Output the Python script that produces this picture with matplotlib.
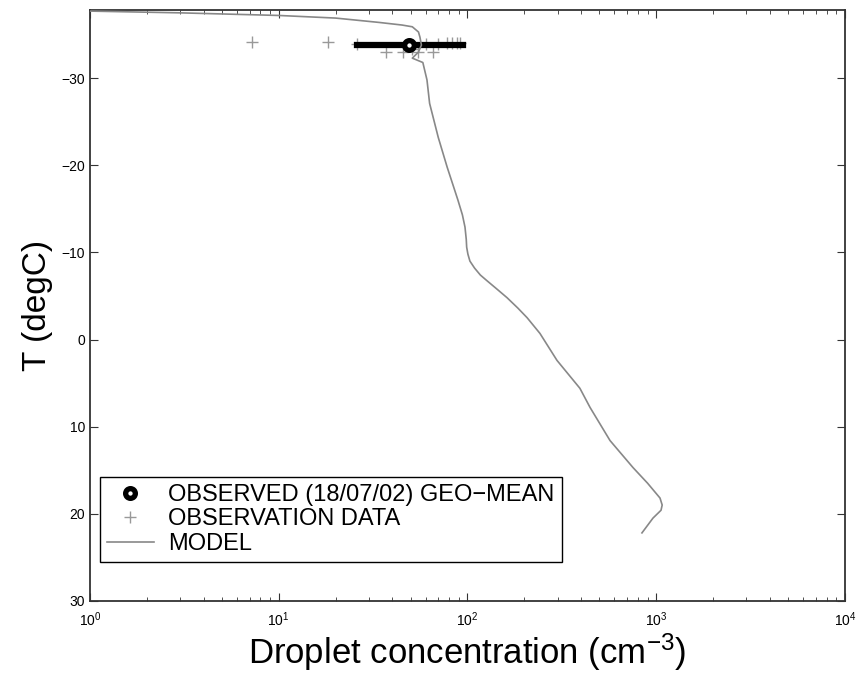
import matplotlib
matplotlib.use("Agg")
import matplotlib.pyplot as plt
import numpy as np

plt.rcParams['font.family'] = ['Liberation Sans', 'DejaVu Sans']
plt.rcParams['mathtext.default'] = 'regular'

# model profile (droplet conc., temperature)
model_n = [1.0, 3.0, 10.0, 20.0, 34.0, 45.0, 51.0, 55.0, 56.0, 57.0, 55.0, 51.0, 58.0,
           61.0, 63.0, 70.0, 78.0, 89.0, 94.0, 97.0, 98.5, 99.0, 100.5, 103.0, 109.0,
           117.0, 126.0, 143.0, 162.0, 185.0, 207.0, 242.0, 298.0, 394.0, 446.0,
           569.0, 753.0, 900.0, 1047.0, 1075.0, 1060.0, 961.0, 840.0]
model_t = [-37.7, -37.5, -37.2, -36.9, -36.4, -36.1, -35.9, -35.3, -34.7, -33.8,
           -33.0, -32.3, -31.8, -29.8, -27.1, -23.2, -19.8, -16.0, -14.3, -12.9,
           -11.5, -10.6, -9.8, -9.0, -8.2, -7.4, -6.8, -5.8, -4.8, -3.6, -2.5, -0.7,
           2.4, 5.6, 7.8, 11.6, 14.7, 16.5, 18.2, 19.0, 19.6, 20.5, 22.2]

# observations
obs_n = [7.2, 18.3, 26.0, 37.0, 45.5, 54.7, 66.0, 60.0, 70.0, 78.0, 83.0, 88.0, 91.0, 51.0]
obs_t = [-34.2, -34.1, -33.9, -33.0, -33.0, -33.0, -33.0, -33.9, -33.9, -34.0, -34.0,
         -34.0, -34.0, -33.3]

# geometric mean and range
geo_n = 49.0
geo_t = -33.8
geo_lo = 26.0
geo_hi = 95.0

fig = plt.figure(figsize=(8.57, 6.82), dpi=100)
ax = fig.add_axes([0.105, 0.119, 0.881, 0.866])

ax.plot([geo_lo, geo_hi], [geo_t, geo_t], color='black', lw=4.5, zorder=3)
ax.plot(obs_n, obs_t, '+', color='#999999', ms=8, mew=1, zorder=2,
        label='OBSERVATION DATA')
ax.plot(model_n, model_t, '-', color='#888888', lw=1.2, zorder=4, label='MODEL')
ax.plot([geo_n], [geo_t], 'o', mfc='white', mec='black', mew=3.8, ms=7, zorder=5,
        label='OBSERVED (18/07/02) GEO\u2212MEAN')

ax.set_xscale('log')
ax.set_xlim(1, 1e4)
ax.set_ylim(30, -37.8)
ax.set_yticks([-30, -20, -10, 0, 10, 20, 30])
ax.set_yticklabels(['\u221230', '\u221220', '\u221210', '0', '10', '20', '30'])

ax.tick_params(which='both', direction='in', top=True, right=True, labelsize=10,
               colors='#333333', labelcolor='black')
ax.tick_params(which='major', length=6)
ax.tick_params(which='minor', length=3)
ax.tick_params(axis='x', which='both', pad=7)
for s in ax.spines.values():
    s.set_linewidth(1.3)
    s.set_color('#333333')

ax.set_xlabel('Droplet concentration (cm$^{-3}$)', fontsize=25, labelpad=2)
ax.set_ylabel('T (degC)', fontsize=24, labelpad=6)

h, l = ax.get_legend_handles_labels()
order = [2, 0, 1]
leg = ax.legend([h[i] for i in order], [l[i] for i in order], loc='lower left',
                bbox_to_anchor=(0.013, 0.066), borderaxespad=0, fancybox=False,
                framealpha=1, edgecolor='black', fontsize=17, handlelength=2.0,
                handletextpad=0.6, labelspacing=0.1, borderpad=0.3)
leg.get_frame().set_linewidth(1.0)

fig.savefig('out.png', dpi=100)
